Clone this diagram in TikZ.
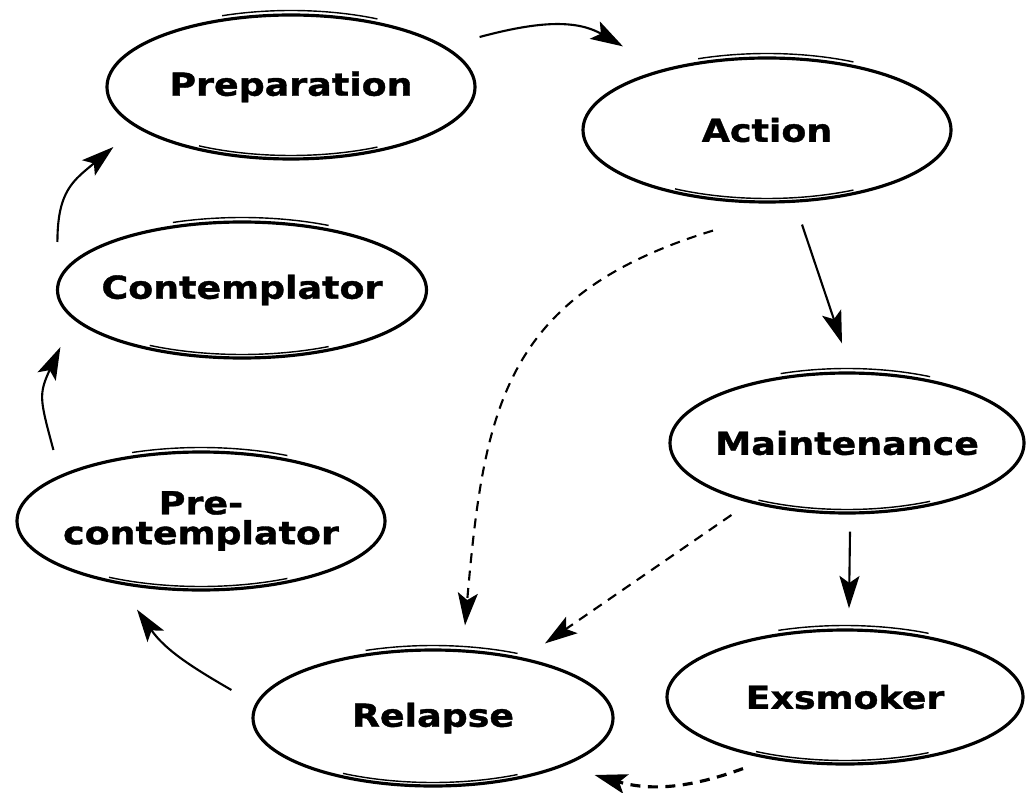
\documentclass[tikz,border=0pt]{standalone}
\usepackage{fontspec}
\newfontfamily\stagefont{DejaVu Sans}[FakeStretch=1.15, FakeBold=1.2]
\usetikzlibrary{shapes.geometric,arrows.meta}

\tikzset{
    stage/.style={ellipse, draw, line width=1.8pt, inner xsep=-1.5cm, inner ysep=0pt,
        minimum width=7.36cm, minimum height=2.88cm, align=center,
        font=\stagefont\bfseries\fontsize{18}{17}\selectfont},
    rim/.style={line width=0.8pt},
    flow/.style={-{Stealth[length=6.5mm,width=4mm,inset=1.4mm]}, line width=1.2pt},
    backflow/.style={flow, dash pattern=on 2mm off 1.5mm}
}

\begin{document}
\begin{tikzpicture}

    \useasboundingbox (0,0) rectangle (20.56,15.84);

    \node[stage] (prep) at (5.82,14.10) {Preparation};
    \node[stage] (action) at (15.34,13.24) {Action};
    \node[stage, minimum width=7.38cm, minimum height=2.72cm] (contemp) at (4.84,10.04) {Contemplator};
    \node[stage, minimum height=2.76cm] (precon) at (4.02,5.42) {Pre-\\contemplator};
    \node[stage, minimum width=7.08cm, minimum height=2.8cm] (maint) at (16.94,6.98) {Maintenance};
    \node[stage, minimum width=7.12cm, minimum height=2.68cm] (exsm) at (16.90,1.90) {Exsmoker};
    \node[stage, minimum width=7.2cm, minimum height=2.72cm] (relapse) at (8.66,1.48) {Relapse};

    \foreach \n/\rx/\ry in {prep/3.68/1.44, action/3.68/1.44, contemp/3.69/1.36, precon/3.68/1.38,
                            maint/3.54/1.40, exsm/3.56/1.34, relapse/3.60/1.36} {
        \draw[rim] ([yshift=0.09cm]\n.center) ++(62:\rx cm and \ry cm) arc[start angle=62, end angle=112, x radius=\rx cm, y radius=\ry cm];
        \draw[rim] ([yshift=0.07cm]\n.center) ++(240:\rx cm and \ry cm) arc[start angle=240, end angle=298, x radius=\rx cm, y radius=\ry cm];
    }

    \draw[flow] ([shift={(0.06,1.0)}]prep.east) to[out=15,in=150] ([shift={(-2.88,0.20)}]action.north);
    \draw[flow] ([shift={(0.03,0.96)}]contemp.west) to[out=90,in=220,looseness=1.2] ([shift={(0.16,-1.20)}]prep.west);
    \draw[flow] ([shift={(0.76,1.42)}]precon.west) to[out=105,in=245,looseness=1.3] ([shift={(0.09,-1.14)}]contemp.west);
    \draw[flow] ([shift={(-0.40,0.56)}]relapse.west) to[out=150,in=305] ([shift={(-1.28,-0.36)}]precon.south);
    \draw[flow] ([shift={(0.70,-0.42)}]action.south) -- ([shift={(-0.10,0.56)}]maint.north);
    \draw[flow] ([shift={(0.06,-0.34)}]maint.south) -- ([shift={(0.08,0.40)}]exsm.north);

    \draw[backflow] ([shift={(1.26,-1.44)}]maint.west) -- ([shift={(2.24,0.10)}]relapse.north);
    \draw[backflow] ([shift={(-1.08,-0.54)}]action.south) to[out=197,in=85,looseness=1.2] ([shift={(0.64,0.46)}]relapse.north);
    \draw[backflow, line width=1.8pt] ([shift={(-2.04,-0.06)}]exsm.south) to[out=200,in=-16] ([shift={(-0.40,-1.14)}]relapse.east);

\end{tikzpicture}
\end{document}
